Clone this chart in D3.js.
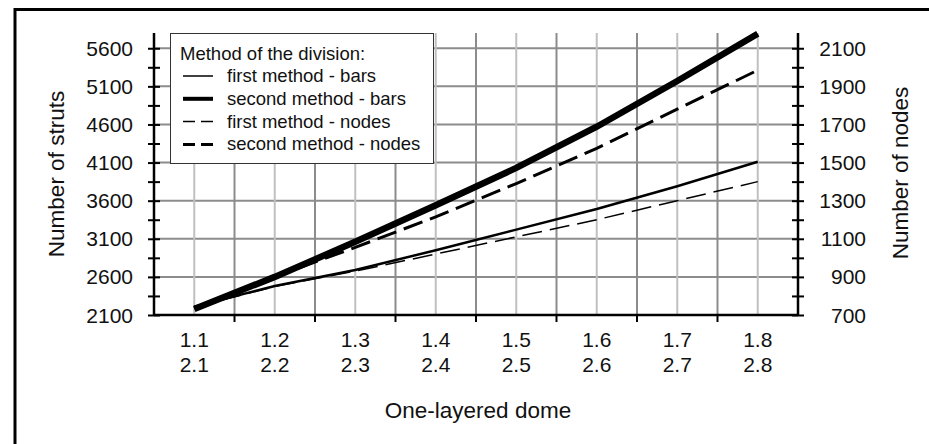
<!DOCTYPE html>
<html>
<head>
<meta charset="utf-8">
<script src="https://cdn.jsdelivr.net/npm/d3@7"></script>
<style>
  body { margin: 0; background: #fff; }
  svg text { font-family: "Liberation Sans", Arial, sans-serif; fill: #111; }
</style>
</head>
<body>
<svg id="chart" width="929" height="444"></svg>
<script>
// data
const categories = ["1.1", "1.2", "1.3", "1.4", "1.5", "1.6", "1.7", "1.8"];
const categories2 = ["2.1", "2.2", "2.3", "2.4", "2.5", "2.6", "2.7", "2.8"];
const firstBars = [2210, 2480, 2690, 2950, 3220, 3490, 3790, 4110];
const secondBars = [2180, 2600, 3060, 3540, 4030, 4570, 5170, 5790];
const firstNodes = [740, 850, 930, 1020, 1110, 1200, 1300, 1400];
const secondNodes = [735, 900, 1055, 1215, 1390, 1575, 1780, 1985];
const leftTicks = [2100, 2600, 3100, 3600, 4100, 4600, 5100, 5600];
const rightTicks = [700, 900, 1100, 1300, 1500, 1700, 1900, 2100];

const svg = d3.select("#chart");

// outer frame (runs off the right / bottom edge)
svg.append("rect")
  .attr("x", 15).attr("y", 9.5)
  .attr("width", 940).attr("height", 460)
  .attr("fill", "none").attr("stroke", "#000").attr("stroke-width", 3);

const L = 154, R = 798, T = 33, B = 315;

const x = d3.scaleBand().domain(categories).range([L, R]);
const yL = d3.scaleLinear().domain([2100, 5800]).range([B, T]);
const yR = d3.scaleLinear().domain([700, 2180]).range([B, T]);
const cx = d => x(d) + x.bandwidth() / 2;

/* ---- grid ---- */
const grid = svg.append("g");
// horizontal lines at major ticks
grid.selectAll("line.h")
  .data(leftTicks.slice(1))
  .enter().append("line")
  .attr("x1", L).attr("x2", R)
  .attr("y1", d => yL(d)).attr("y2", d => yL(d))
  .attr("stroke", "#8c8c8c").attr("stroke-width", 2);
// band boundaries (darker)
grid.selectAll("line.vb")
  .data(categories.slice(1))
  .enter().append("line")
  .attr("x1", d => x(d)).attr("x2", d => x(d))
  .attr("y1", T).attr("y2", B)
  .attr("stroke", "#8c8c8c").attr("stroke-width", 2);
// band centres (lighter)
grid.selectAll("line.vc")
  .data(categories)
  .enter().append("line")
  .attr("x1", d => cx(d)).attr("x2", d => cx(d))
  .attr("y1", T).attr("y2", B)
  .attr("stroke", "#c0c0c0").attr("stroke-width", 2);

/* ---- axes ---- */
const tickFont = "21px";

// left axis: line + crossing ticks every 250
const leftG = svg.append("g").attr("transform", `translate(${L},0)`);
leftG.call(d3.axisLeft(yL).tickValues(d3.range(2100, 5801, 250)).tickSize(0).tickFormat(""));
leftG.select(".domain").attr("stroke", "#000").attr("stroke-width", 2.5).attr("d", `M0,${T}V${B}`);
leftG.selectAll(".tick line").attr("x1", -6).attr("x2", 6).attr("stroke", "#000").attr("stroke-width", 2);
leftG.selectAll("text.lab")
  .data(leftTicks).enter().append("text")
  .attr("x", -21).attr("y", d => yL(d)).attr("dy", "0.36em")
  .attr("text-anchor", "end").style("font-size", tickFont)
  .text(d => d);

// right axis
const rightG = svg.append("g").attr("transform", `translate(${R},0)`);
rightG.call(d3.axisRight(yR).tickValues(d3.range(700, 2181, 100)).tickSize(0).tickFormat(""));
rightG.select(".domain").attr("stroke", "#000").attr("stroke-width", 2.5).attr("d", `M0,${T}V${B}`);
rightG.selectAll(".tick line").attr("x1", -6).attr("x2", 6).attr("stroke", "#000").attr("stroke-width", 2);
rightG.selectAll("text.lab")
  .data(rightTicks).enter().append("text")
  .attr("x", 68).attr("y", d => yR(d)).attr("dy", "0.36em")
  .attr("text-anchor", "end").style("font-size", tickFont)
  .text(d => d);

// bottom axis: ticks at band edges, two-line labels at band centres
const botG = svg.append("g").attr("transform", `translate(0,${B})`);
botG.append("line").attr("x1", L).attr("x2", R).attr("stroke", "#000").attr("stroke-width", 2.5);
botG.selectAll("line.t")
  .data(categories.slice(1)).enter().append("line")
  .attr("x1", d => x(d)).attr("x2", d => x(d))
  .attr("y1", 0).attr("y2", 7)
  .attr("stroke", "#000").attr("stroke-width", 2);
botG.selectAll("text.c1")
  .data(categories).enter().append("text")
  .attr("x", d => cx(d)).attr("y", 32)
  .attr("text-anchor", "middle").style("font-size", tickFont)
  .text(d => d);
botG.selectAll("text.c2")
  .data(categories2).enter().append("text")
  .attr("x", (d, i) => cx(categories[i])).attr("y", 57)
  .attr("text-anchor", "middle").style("font-size", tickFont)
  .text(d => d);

/* ---- axis titles ---- */
svg.append("text")
  .attr("transform", "translate(64,174) rotate(-90)")
  .attr("text-anchor", "middle").style("font-size", "22.5px")
  .text("Number of struts");
svg.append("text")
  .attr("transform", "translate(908,173) rotate(-90)")
  .attr("text-anchor", "middle").style("font-size", "22.5px")
  .text("Number of nodes");
svg.append("text")
  .attr("x", 478).attr("y", 418)
  .attr("text-anchor", "middle").style("font-size", "22.5px")
  .text("One-layered dome");

/* ---- series ---- */
const series = [
  { name: "first method - bars", values: firstBars, y: yL, w: 2.5, lw: 1.5, dash: null },
  { name: "second method - bars", values: secondBars, y: yL, w: 6.5, lw: 4, dash: null },
  { name: "first method - nodes", values: firstNodes, y: yR, w: 1.5, lw: 1.5, dash: "20,8" },
  { name: "second method - nodes", values: secondNodes, y: yR, w: 3, lw: 3, dash: "20,8" }
];

series.forEach(s => {
  const line = d3.line()
    .x((d, i) => cx(categories[i]))
    .y(d => s.y(d));
  svg.append("path")
    .datum(s.values)
    .attr("d", line)
    .attr("fill", "none")
    .attr("stroke", "#000")
    .attr("stroke-width", s.w)
    .attr("stroke-dasharray", s.dash);
});

/* ---- legend ---- */
const lg = svg.append("g");
lg.append("rect")
  .attr("x", 170.5).attr("y", 33.5).attr("width", 263).attr("height", 130)
  .attr("fill", "#fff").attr("stroke", "#333").attr("stroke-width", 1);
lg.append("text")
  .attr("x", 180).attr("y", 60).style("font-size", "18.5px")
  .text("Method of the division:");
series.forEach((s, i) => {
  const yy = 82 + i * 22.8;
  lg.append("line")
    .attr("x1", 183).attr("x2", 213)
    .attr("y1", yy - 6).attr("y2", yy - 6)
    .attr("stroke", "#000").attr("stroke-width", s.lw)
    .attr("stroke-dasharray", s.dash ? "12,6" : null);
  lg.append("text")
    .attr("x", 227).attr("y", yy).style("font-size", "18.5px")
    .text(s.name);
});
</script>
</body>
</html>
